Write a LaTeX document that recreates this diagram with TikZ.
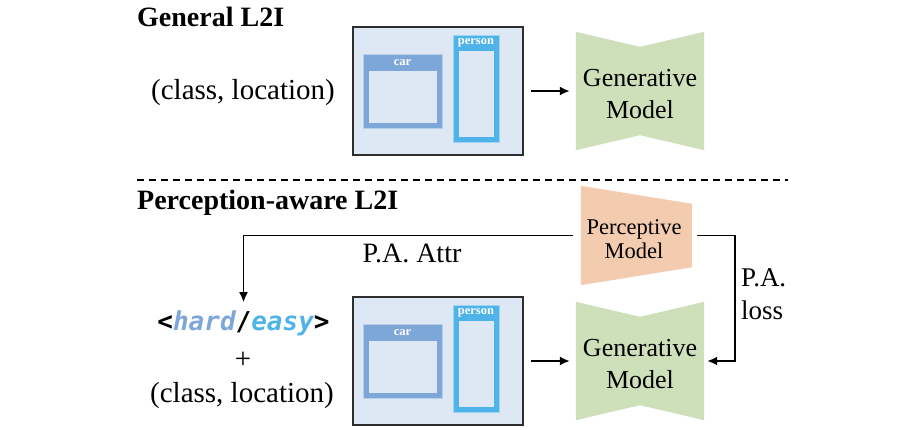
\documentclass[tikz,border=0pt]{standalone}
\usepackage{fontspec}
\setmainfont{Liberation Serif}
\newfontfamily\codefont{DejaVu Sans Mono}
\usetikzlibrary{arrows.meta,calc,backgrounds}
\definecolor{bgblue}{HTML}{DEE8F4}
\definecolor{carblue}{HTML}{7DA7D8}
\definecolor{perblue}{HTML}{4EB3E9}
\definecolor{genfill}{HTML}{CDE0BA}
\definecolor{perfill}{HTML}{F3CBAE}
\definecolor{edgegray}{HTML}{2E2E2E}
\tikzset{
  titletext/.style={font=\bfseries\fontsize{28}{30}\selectfont, anchor=base west, inner sep=0pt},
  lbl/.style={font=\fontsize{29}{33}\selectfont, inner sep=0pt},
  layoutbox/.style={draw=edgegray, line width=1.6pt, fill=bgblue, minimum width=170pt, minimum height=128pt, inner sep=0pt},
  carframe/.style={fill=carblue, draw=carblue!55!white, line width=0.6pt, inner sep=0pt},
  perframe/.style={fill=perblue, draw=perblue!55!white, line width=0.6pt, inner sep=0pt},
  innerbox/.style={fill=bgblue, inner sep=0pt},
  tag/.style={font=\bfseries\fontsize{12.5}{13}\selectfont, text=white, inner sep=0pt},
  modeltext/.style={align=center, inner sep=0pt, font=\fontsize{26}{32}\selectfont},
  shapebox/.style={inner sep=0pt},
  arr/.style={-{Latex[length=10pt,width=9pt]}, line width=1.8pt},
  sep/.style={line width=1.7pt, dash pattern=on 7pt off 5pt}
}
\newcommand\drawlayout[2]{%
  \node[layoutbox] (box#1) at (438,91+#2) {};
  \node[carframe, minimum width=79pt, minimum height=74pt] (car#1) at (402.5,91+#2) {};
  \node[innerbox, minimum width=68pt, minimum height=52pt] (cari#1) at (403,97+#2) {};
  \node[tag] (cart#1) at (402.5,62.5+#2) {car};
  \node[perframe, minimum width=46pt, minimum height=107pt] (per#1) at (476,88.5+#2) {};
  \node[innerbox, minimum width=35pt, minimum height=86pt] (peri#1) at (476.5,94+#2) {};
  \node[tag] (pert#1) at (476,43+#2) {person};
  \node[shapebox, minimum width=128pt, minimum height=118pt] (gen#1) at (640,91+#2) {};
  \begin{pgfonlayer}{background}
    \fill[genfill] (gen#1.north west) -- ($(gen#1.north)+(0,15)$) -- (gen#1.north east)
      -- (gen#1.south east) -- ($(gen#1.south)+(0,-15)$) -- (gen#1.south west) -- cycle;
  \end{pgfonlayer}
  \node[modeltext] (gent#1) at (640,94.5+#2) {Generative\\Model};
  \draw[arr, shorten <=7pt, shorten >=6pt] (box#1) -- (gen#1);
}
\begin{document}
\begin{tikzpicture}[x=1pt,y=-1pt]
\useasboundingbox (0,0) rectangle (918,430);

% top row
\node[titletext] (t1) at (137,27) {General L2I};
\node[lbl] (cls1) at (243,93) {(class, location)};
\drawlayout{A}{0}

% separator
\coordinate (sepL) at (137,180);
\coordinate (sepR) at (788,180);
\draw[sep] (sepL) -- (sepR);

% bottom row
\node[titletext] (t2) at (137,210) {Perception-aware L2I};
\drawlayout{B}{270}

\node[inner sep=0pt, font=\codefont\fontsize{26}{28}\selectfont] (hx) at (243.5,323)
  {\bfseries <\itshape\textcolor{carblue}{hard}\upshape/\itshape\textcolor{perblue}{easy}\upshape>};
\node[lbl] (plus) at (243,360) {+};
\node[lbl] (cls2) at (242,396) {(class, location)};

\node[shapebox, minimum width=111pt, minimum height=99pt] (pm) at (636.5,235.5) {};
\begin{pgfonlayer}{background}
  \fill[perfill] (pm.north west) -- ($(pm.north east)+(0,18)$) -- ($(pm.south east)+(0,-18)$) -- (pm.south west) -- cycle;
\end{pgfonlayer}
\node[align=center, inner sep=0pt, font=\fontsize{22.5}{24}\selectfont] (pmt) at (634,239.5) {Perceptive\\Model};

\draw[arr, shorten >=8pt] ([xshift=-8pt]pm.west) -| (hx.north);
\node[inner sep=0pt, font=\fontsize{28}{30}\selectfont] (attr) at (412,253) {P.A. Attr};

\draw[arr] ([xshift=5pt]pm.east) -- ++(38,0) |- ([xshift=3pt]genB.east);
\node[anchor=west, align=left, inner sep=0pt, font=\fontsize{27}{33}\selectfont] (loss) at (741,294) {P.A.\\loss};
\end{tikzpicture}
\end{document}
